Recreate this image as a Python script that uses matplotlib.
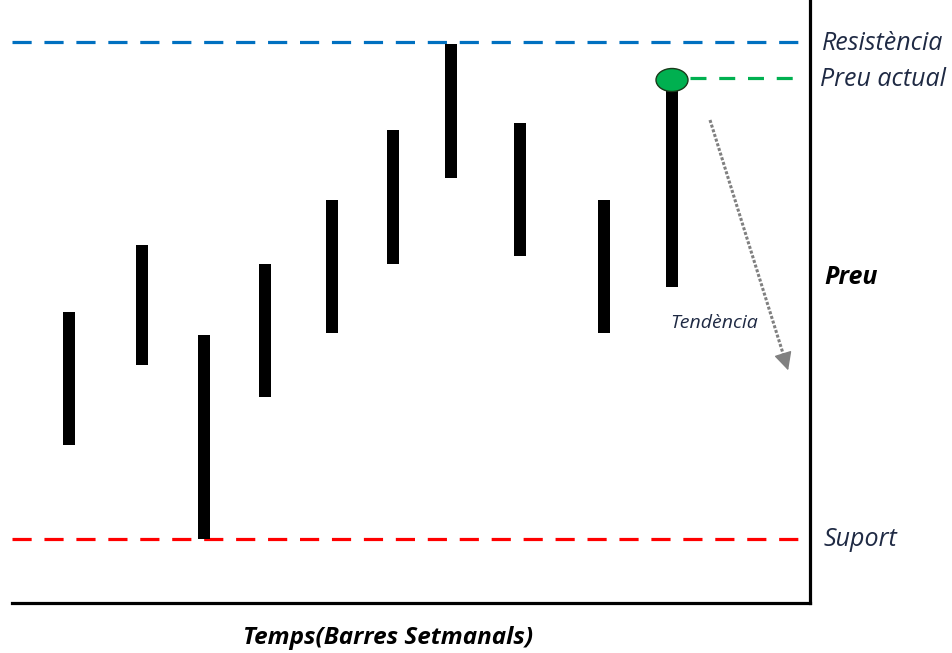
import matplotlib.pyplot as plt
from matplotlib.patches import Ellipse

# setmanes (posicio horitzontal) i preus maxim/minim de cada barra
weeks = [69, 142, 204, 265, 332, 393, 451, 520, 604, 672]
highs = [291, 358, 268, 339, 403, 473, 559, 480, 403, 523]
lows = [158, 238, 64, 206, 270, 339, 425, 347, 270, 316]

resistance = 561
support = 64
current_price = 523

label_font = ['Open Sans', 'DejaVu Sans']

fig = plt.figure(figsize=(9.53, 6.53), dpi=100)
ax = fig.add_axes([12 / 953, 50 / 653, 798 / 953, 603 / 653])
ax.set_xlim(12, 810)
ax.set_ylim(0, 603)

# barres setmanals
heights = [h - l for h, l in zip(highs, lows)]
ax.bar(weeks, heights, bottom=lows, width=12, color='black', zorder=3)

# linies de resistencia i suport
ax.axhline(resistance, color='#0070C0', lw=2.3, dashes=(6, 4), zorder=2)
ax.axhline(support, color='#FF0000', lw=2.3, dashes=(6, 4), zorder=2)

# preu actual
ax.plot([690, 805], [current_price + 2, current_price + 2], color='#00B050',
        lw=2.3, dashes=(5, 4), zorder=2)
ax.add_patch(Ellipse((weeks[-1], current_price), 32, 23, facecolor='#00B050',
                     edgecolor='#1a3a1a', lw=1.0, zorder=4))

# fletxa de tendencia
ax.plot([710, 786], [483, 240], color='#808080', lw=2.2, ls=(0, (1, 0.6)),
        zorder=2)
ax.annotate('', xy=(789, 230), xytext=(784, 246),
            arrowprops=dict(arrowstyle='-|>', color='#808080', lw=1,
                            mutation_scale=28))
ax.text(714, 280, 'Tendència', fontsize=14, style='italic', color='#1F2A44',
        ha='center', va='center', family=label_font)

# etiquetes a la dreta
ax.text(822, resistance - 1, 'Resistència', fontsize=18, style='italic',
        color='#1F2A44', va='center', clip_on=False, family=label_font)
ax.text(820, 524, 'Preu actual', fontsize=18, style='italic',
        color='#1F2A44', va='center', clip_on=False, family=label_font)
ax.text(824, 325, 'Preu', fontsize=18, style='italic', weight='bold',
        color='black', va='center', clip_on=False, family=label_font)
ax.text(824, support, 'Suport', fontsize=18, style='italic',
        color='#1F2A44', va='center', clip_on=False, family=label_font)

fig.text(388 / 953, 1 - 638 / 653, 'Temps(Barres Setmanals)', fontsize=17.5,
         style='italic', weight='bold', ha='center', va='center',
         family=label_font)

ax.set_xticks([])
ax.set_yticks([])
ax.spines['top'].set_visible(False)
ax.spines['left'].set_visible(False)
ax.spines['bottom'].set_linewidth(2.3)
ax.spines['right'].set_linewidth(2.3)

fig.savefig('out.png', dpi=100)
